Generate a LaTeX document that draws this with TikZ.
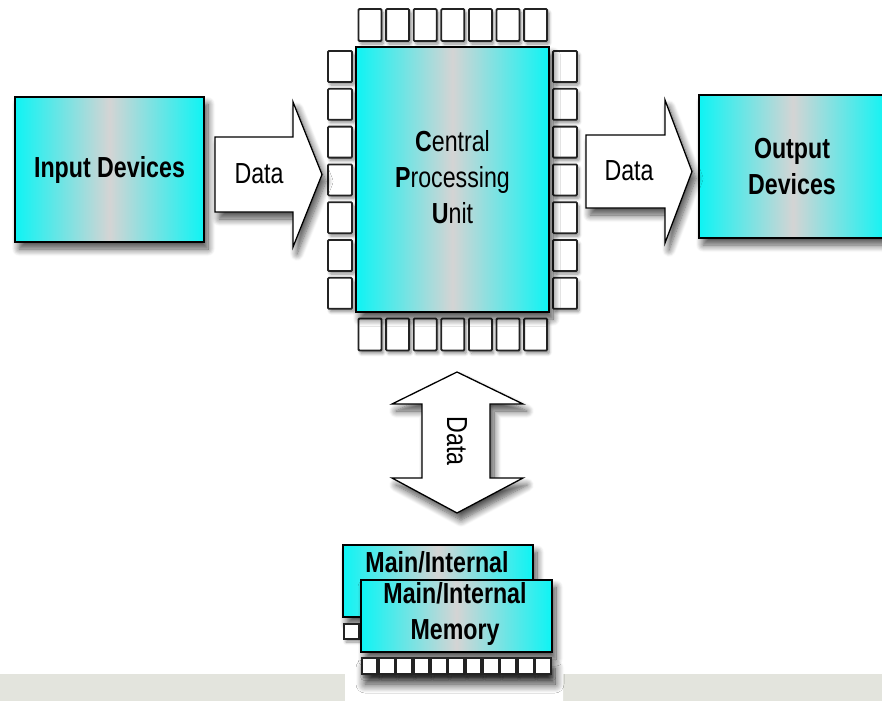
\documentclass[tikz,border=0pt]{standalone}
\usepackage{fontspec}
\setmainfont{Liberation Sans}
\newfontfamily\narrowsans[FakeStretch=0.8]{Liberation Sans}
\usetikzlibrary{shadows.blur}

\definecolor{chipcyan}{RGB}{14,244,244}
\definecolor{chipgray}{RGB}{212,212,212}
\definecolor{stripgray}{RGB}{227,228,221}
\definecolor{pinedge}{RGB}{35,35,35}

\begin{document}
\begin{tikzpicture}[x=1pt,y=-1pt,
  softshadow/.style={blur shadow={shadow xshift=4pt, shadow yshift=-7pt,
      shadow blur radius=7pt, shadow blur steps=10, shadow opacity=70}},
  deepshadow/.style={blur shadow={shadow xshift=3pt, shadow yshift=-10pt,
      shadow blur radius=9pt, shadow blur steps=12, shadow opacity=80}},
  smallshadow/.style={blur shadow={shadow xshift=2pt, shadow yshift=-3pt,
      shadow blur radius=3pt, shadow blur steps=6, shadow opacity=45}},
  chipbox/.style={draw=black, line width=1.7pt, rectangle, inner sep=0pt,
      left color=chipcyan, right color=chipcyan, middle color=chipgray, softshadow},
  pin/.style={draw=pinedge, line width=1.8pt, fill=white, rounded corners=1pt, smallshadow},
  blockarrow/.style={draw=black, line width=1.3pt, fill=white, line join=miter, softshadow},
  label/.style={font=\narrowsans\fontsize{29}{36}\selectfont, align=center, text=black},
  boldlabel/.style={font=\narrowsans\bfseries\fontsize{29}{36}\selectfont, align=center, text=black},
]
\useasboundingbox (0,0) rectangle (882,701);
\begin{scope}
\clip (0,0) rectangle (882,701);

% grey strip along the bottom, with the white pad under the memory
\fill[stripgray] (0,674) rectangle (882,701);
\fill[white, rounded corners=10pt] (345,660) rectangle (563,712);

% input and output devices
\node[chipbox, minimum width=189pt, minimum height=145pt] (input) at (109.5,169.5) {};
\node[boldlabel] (inputtext) at (input.center) {Input Devices};
\node[chipbox, minimum width=188pt, minimum height=143pt] (output) at (793,166.5) {};
\node[boldlabel] (outputtext) at (792,167) {Output\\Devices};

% processor pins
\foreach \i in {0,...,6} {
  \node[pin, minimum width=23pt, minimum height=32pt, inner sep=0pt] (top\i) at ({370+27.6*\i},25) {};
  \node[pin, minimum width=23pt, minimum height=32pt, inner sep=0pt] (bot\i) at ({370+27.6*\i},334.5) {};
  \node[pin, minimum width=24pt, minimum height=31pt, inner sep=0pt] (lft\i) at (340,{66.5+37.8*\i}) {};
  \node[pin, minimum width=24pt, minimum height=31pt, inner sep=0pt] (rgt\i) at (565,{66.5+37.8*\i}) {};
}

% processor body
\node[chipbox, minimum width=193pt, minimum height=265pt] (cpu) at (452.5,179.5) {};
\node[label] (cputext) at (452.5,177) {{\bfseries C}entral\\{\bfseries P}rocessing\\{\bfseries U}nit};

% data arrow into the processor
\draw[blockarrow] (215,137) -- (293,137) -- (293,102) -- (322,174.5)
  -- (293,247) -- (293,212) -- (215,212) -- cycle;
\node[label] (indata) at (259,174) {Data};

% data arrow out of the processor
\draw[blockarrow] (586,135) -- (665,135) -- (665,100) -- (692,171.5)
  -- (665,243) -- (665,208) -- (586,208) -- cycle;
\node[label] (outdata) at (629,171) {Data};

% two-way data arrow between processor and memory
\draw[blockarrow] (457,372) -- (523,404) -- (490,404) -- (490,478) -- (523,478)
  -- (457,513) -- (392,478) -- (422,478) -- (422,404) -- (392,404) -- cycle;
\node[label, rotate=-90] (memdata) at (457,441) {Data};

% memory modules
\fill[black, opacity=0.0, deepshadow] (362,658) rectangle (552,674);
\node[chipbox, minimum width=190pt, minimum height=72pt] (memback) at (438,581) {};
\node[boldlabel] (membacktext) at (437,562) {Main/Internal};
\node[pin, minimum width=15pt, minimum height=15pt, inner sep=0pt, rounded corners=0pt] (backpin) at (351.5,631.5) {};
\node[chipbox, minimum width=191pt, minimum height=72pt] (memfront) at (456.5,616) {};
\node[boldlabel] (memfronttext) at (455,613.5) {Main/Internal\\Memory};
\foreach \i in {0,...,10} {
  \node[pin, minimum width=15.5pt, minimum height=16.5pt, inner sep=0pt, rounded corners=0pt] (mpin\i) at ({369.5+17.35*\i},666) {};
}
\end{scope}
\end{tikzpicture}
\end{document}
